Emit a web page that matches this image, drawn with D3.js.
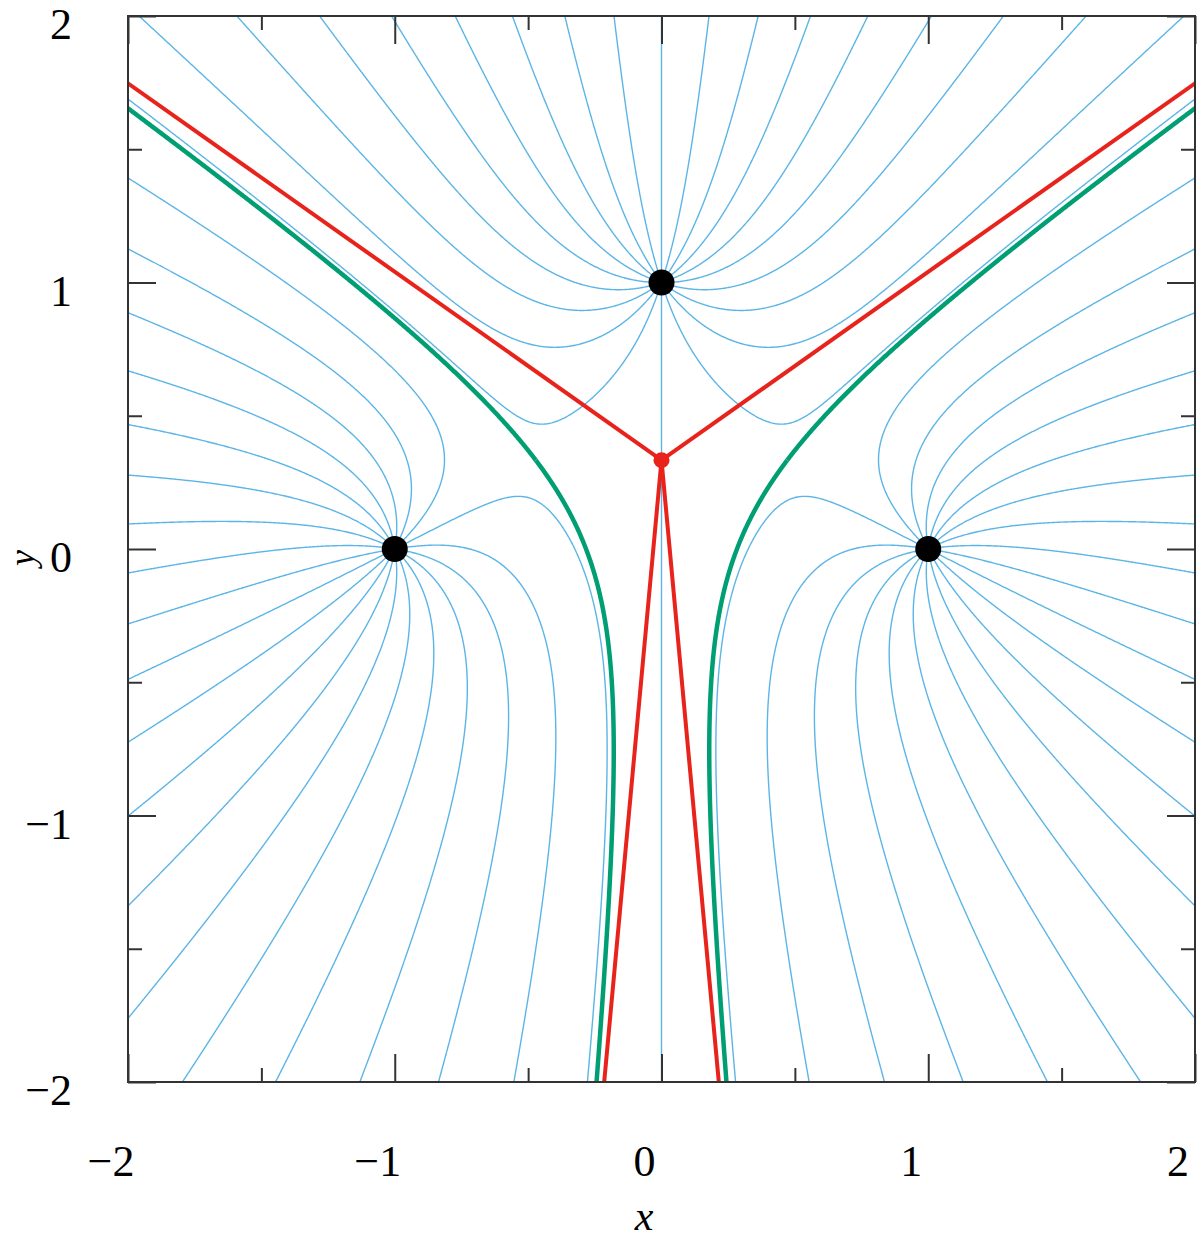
<!DOCTYPE html>
<html><head><meta charset="utf-8">
<script src="https://cdn.jsdelivr.net/npm/d3@7"></script>
<style>body{margin:0;background:#fff}</style>
</head><body>
<svg id="chart" width="1200" height="1243"></svg>
<script>
// ---- data ----
const chargeX = [-1, 1, 0];
const chargeY = [0, 0, 1];
const chargeQ = [1, 1, 1];
// starting angles (degrees) of the field lines leaving each charge
const seedAnglesLeft  = [9,27,45,63,81,99,117,135,153,171,189,207,225,243,261,279,297,315,333,351];
const seedAnglesRight = [9,27,45,63,81,99,117,135,153,171,189,207,225,243,261,279,297,315,333,351];
const seedAnglesTop   = [0,18,36,54,72,90,108,126,144,162,180,198,216,234,252,270,288,306,324,342];
// saddle points (separatrices, green)
const saddleX = [-0.4714, 0.4714];
const saddleY = [0.3333, 0.3333];
// centre of charge and asymptote directions (red)
const centreX = [0];
const centreY = [0.3333];
const asymptoteAngles = [35.26, 144.74, 264.74, 275.26];
// ticks
const majorTicks = [-2, -1, 0, 1, 2];
const minorTicks = [-1.5, -0.5, 0.5, 1.5];

// ---- layout ----
const svg = d3.select("#chart");
const L = 128, R = 1195, T = 16, B = 1082;
const x = d3.scaleLinear().domain([-2, 2]).range([L, R]);
const y = d3.scaleLinear().domain([-2, 2]).range([B, T]);
const BLUE = "#5cb5e6", GREEN = "#009e73", RED = "#e8231b";

svg.append("defs").append("clipPath").attr("id", "clip")
  .append("rect").attr("x", L).attr("y", T).attr("width", R - L).attr("height", B - T);
const plot = svg.append("g").attr("clip-path", "url(#clip)");

// ---- field ----
function field(px, py) {
  let ex = 0, ey = 0;
  for (let k = 0; k < chargeX.length; k++) {
    const dx = px - chargeX[k], dy = py - chargeY[k];
    const r2 = dx * dx + dy * dy;
    ex += chargeQ[k] * dx / r2; ey += chargeQ[k] * dy / r2;
  }
  return [ex, ey];
}
function dir(px, py) {
  const e = field(px, py); const m = Math.hypot(e[0], e[1]) || 1e-12;
  return [e[0] / m, e[1] / m];
}
function trace(x0, y0, skip) {
  const pts = [[x0, y0]]; let px = x0, py = y0; const h = 0.004;
  for (let i = 0; i < 4000; i++) {
    const k1 = dir(px, py);
    const k2 = dir(px + h / 2 * k1[0], py + h / 2 * k1[1]);
    const k3 = dir(px + h / 2 * k2[0], py + h / 2 * k2[1]);
    const k4 = dir(px + h * k3[0], py + h * k3[1]);
    px += h / 6 * (k1[0] + 2 * k2[0] + 2 * k3[0] + k4[0]);
    py += h / 6 * (k1[1] + 2 * k2[1] + 2 * k3[1] + k4[1]);
    pts.push([px, py]);
    if (Math.abs(px) > 2.3 || Math.abs(py) > 2.3) break;
    let hit = false;
    for (let k = 0; k < chargeX.length; k++) {
      if (k !== skip && Math.hypot(px - chargeX[k], py - chargeY[k]) < 0.02) hit = true;
    }
    if (hit) break;
  }
  return pts;
}
const line = d3.line().x(d => x(d[0])).y(d => y(d[1])).curve(d3.curveLinear);

// ---- blue field lines ----
const seedSets = [seedAnglesLeft, seedAnglesRight, seedAnglesTop];
const fieldLines = [];
seedSets.forEach((angles, k) => {
  angles.forEach(a => {
    const t = a * Math.PI / 180, r0 = 0.015;
    fieldLines.push([[chargeX[k], chargeY[k]]].concat(
      trace(chargeX[k] + r0 * Math.cos(t), chargeY[k] + r0 * Math.sin(t), k)));
  });
});
plot.append("g").selectAll("path").data(fieldLines).join("path")
  .attr("d", line).attr("fill", "none").attr("stroke", BLUE).attr("stroke-width", 1.4);

// ---- green separatrices ----
const sepLines = [];
saddleX.forEach((sx, i) => {
  const sy = saddleY[i], d = 1e-5;
  const a = (field(sx + d, sy)[0] - field(sx - d, sy)[0]) / (2 * d);
  const b = (field(sx, sy + d)[0] - field(sx, sy - d)[0]) / (2 * d);
  const lam = Math.hypot(a, b);
  let vx = lam + a, vy = b; const m = Math.hypot(vx, vy); vx /= m; vy /= m;
  [1, -1].forEach(s => {
    const eps = 0.003;
    sepLines.push([[sx, sy]].concat(trace(sx + s * eps * vx, sy + s * eps * vy, -1)));
  });
});
plot.append("g").selectAll("path").data(sepLines).join("path")
  .attr("d", line).attr("fill", "none").attr("stroke", GREEN).attr("stroke-width", 4.5);

// ---- red asymptotes ----
const asyLines = asymptoteAngles.map(a => {
  const t = a * Math.PI / 180;
  return [[centreX[0], centreY[0]], [centreX[0] + 4 * Math.cos(t), centreY[0] + 4 * Math.sin(t)]];
});
plot.append("g").selectAll("path").data(asyLines).join("path")
  .attr("d", line).attr("fill", "none").attr("stroke", RED).attr("stroke-width", 4);
plot.append("circle").attr("cx", x(centreX[0])).attr("cy", y(centreY[0])).attr("r", 8).attr("fill", RED);

// ---- charges ----
plot.append("g").selectAll("circle").data(chargeX).join("circle")
  .attr("cx", d => x(d)).attr("cy", (d, i) => y(chargeY[i])).attr("r", 13).attr("fill", "#000");

// ---- frame & ticks ----
const axColor = "#333";
function ticks(sel, axis, size) { sel.call(axis.tickSize(size).tickFormat("")).call(g => g.select(".domain").remove())
  .call(g => g.selectAll("line").attr("stroke", axColor).attr("stroke-width", 2)); }
[[d3.axisBottom(x), `translate(0,${B})`], [d3.axisTop(x), `translate(0,${T})`],
 [d3.axisLeft(y), `translate(${L},0)`], [d3.axisRight(y), `translate(${R},0)`]].forEach(([ax, tr]) => {
  svg.append("g").attr("transform", tr).call(s => ticks(s, ax.tickValues(majorTicks), -28));
});
[[d3.axisBottom(x), `translate(0,${B})`], [d3.axisTop(x), `translate(0,${T})`],
 [d3.axisLeft(y), `translate(${L},0)`], [d3.axisRight(y), `translate(${R},0)`]].forEach(([ax, tr]) => {
  svg.append("g").attr("transform", tr).call(s => ticks(s, ax.tickValues(minorTicks), -14));
});
svg.append("rect").attr("x", L).attr("y", T).attr("width", R - L).attr("height", B - T)
  .attr("fill", "none").attr("stroke", axColor).attr("stroke-width", 2);

// ---- labels ----
const fmt = d => d < 0 ? "\u2212" + Math.abs(d) : String(d);
const font = "'Liberation Serif', 'Times New Roman', Times, serif";
svg.append("g").selectAll("text").data(majorTicks).join("text")
  .attr("x", d => x(d) - 17).attr("y", 1176).attr("text-anchor", "middle")
  .attr("font-family", font).attr("font-size", 44).attr("fill", "#000").text(fmt);
svg.append("g").selectAll("text").data(majorTicks).join("text")
  .attr("x", 72).attr("y", d => y(d) + 23).attr("text-anchor", "end")
  .attr("font-family", font).attr("font-size", 44).attr("fill", "#000").text(fmt);
svg.append("text").attr("x", 644).attr("y", 1230).attr("text-anchor", "middle")
  .attr("font-family", font).attr("font-style", "italic").attr("font-size", 42).text("x");
svg.append("text").attr("transform", "translate(34,558) rotate(-90)").attr("text-anchor", "middle")
  .attr("font-family", font).attr("font-style", "italic").attr("font-size", 36).text("y");
</script>
</body></html>
